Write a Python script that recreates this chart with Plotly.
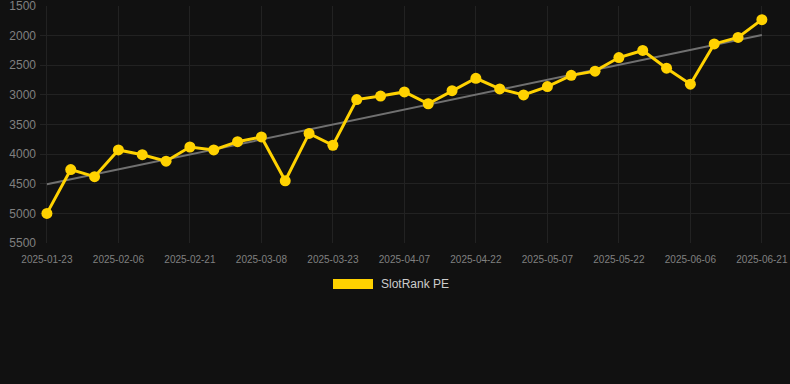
import numpy as np
import plotly.graph_objects as go

dates = ["2025-01-23", "2025-01-27", "2025-02-01", "2025-02-06", "2025-02-11", "2025-02-16",
         "2025-02-21", "2025-02-26", "2025-03-03", "2025-03-08", "2025-03-13", "2025-03-18",
         "2025-03-23", "2025-03-28", "2025-04-02", "2025-04-07", "2025-04-12", "2025-04-17",
         "2025-04-22", "2025-04-27", "2025-05-02", "2025-05-07", "2025-05-12", "2025-05-17",
         "2025-05-22", "2025-05-27", "2025-06-01", "2025-06-06", "2025-06-11", "2025-06-16",
         "2025-06-21"]
rank = [5000, 4260, 4380, 3930, 4010, 4120, 3880, 3930, 3790, 3710,
        4450, 3650, 3850, 3080, 3020, 2950, 3150, 2930, 2720, 2900,
        3000, 2860, 2670, 2600, 2370, 2250, 2550, 2820, 2140, 2030, 1730]
tick_labels = dates[::3]
y_ticks = [1500, 2000, 2500, 3000, 3500, 4000, 4500, 5000, 5500]
series_name = "SlotRank PE"

idx = np.arange(len(rank))
slope, intercept = np.polyfit(idx, rank, 1)
trend = slope * idx + intercept

fig = go.Figure()
fig.add_trace(go.Scatter(x=dates, y=trend, mode="lines",
                         line=dict(color="#707070", width=2),
                         hoverinfo="skip", showlegend=False))
fig.add_trace(go.Scatter(x=dates, y=rank, mode="lines+markers", name=series_name,
                         line=dict(color="#FFD200", width=3),
                         marker=dict(color="#FFD200", size=11),
                         showlegend=False))

plot_bottom = 243
plot_h = 237

fig.update_layout(
    width=790, height=384,
    margin=dict(l=40, r=0, t=6, b=141),
    paper_bgcolor="#111111", plot_bgcolor="#111111",
    font=dict(family="Arial, Liberation Sans, sans-serif", color="#888888"),
    xaxis=dict(type="category", range=[-0.29, 31.18],
               tickmode="array", tickvals=tick_labels, ticktext=tick_labels,
               tickfont=dict(size=10, color="#808080"),
               showgrid=True, gridcolor="#222222", gridwidth=1,
               zeroline=False, showline=False, ticks="", ticklen=0,
               ticklabelstandoff=9, ticklabeloverflow="allow"),
    yaxis=dict(range=[5500, 1500], tickvals=y_ticks,
               tickfont=dict(size=12, color="#808080"),
               showgrid=True, gridcolor="#222222", gridwidth=1,
               zeroline=False, showline=False, ticks="", ticklabelstandoff=3,
               ticklabeloverflow="allow"),
    shapes=[dict(type="rect", xref="paper", yref="paper",
                 x0=(333 - 40) / 750, x1=(373 - 40) / 750,
                 y0=(plot_bottom - 289) / plot_h, y1=(plot_bottom - 279) / plot_h,
                 fillcolor="#FFD200", line=dict(width=0))],
    annotations=[dict(text=series_name, xref="paper", yref="paper",
                      x=(379 - 40) / 750, y=(plot_bottom - 284) / plot_h,
                      xanchor="left", yanchor="middle", showarrow=False,
                      font=dict(size=12, color="#CCCCCC"))],
)

fig.write_html("out.html", config={"displayModeBar": False},
               post_script="document.body.style.margin='0';")
